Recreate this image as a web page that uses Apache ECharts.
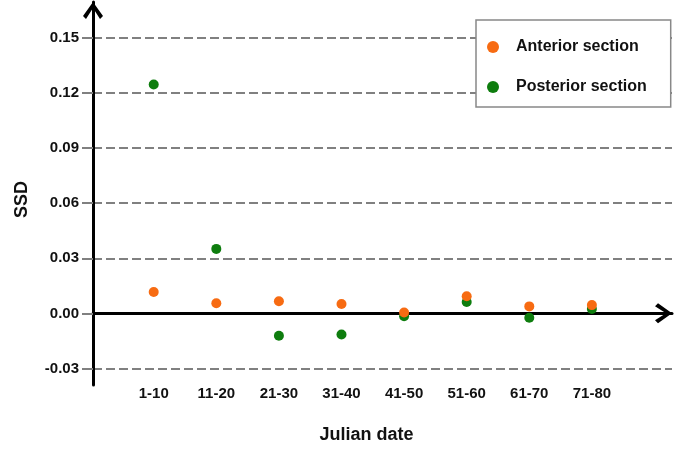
<!DOCTYPE html>
<html>
<head>
<meta charset="utf-8">
<script src="https://cdn.jsdelivr.net/npm/echarts@6/dist/echarts.min.js"></script>
<style>
  html, body { margin: 0; padding: 0; background: #fff; }
  #chart { width: 700px; height: 456px; }
</style>
</head>
<body>
<div id="chart"></div>
<script>
// categories along x (placed at 1..8 on a value axis)
var categories = ['1-10', '11-20', '21-30', '31-40', '41-50', '51-60', '61-70', '71-80'];
var anterior = [0.0116, 0.0055, 0.0066, 0.0051, 0.0005, 0.0093, 0.0038, 0.0045];
var posterior = [0.1246, 0.0351, -0.0122, -0.0115, -0.0016, 0.0062, -0.0024, 0.0024];
// y tick labels
var yTicks = [-0.03, 0, 0.03, 0.06, 0.09, 0.12, 0.15];

var chevron = 'path://M10,0 L20,14 L17,17 L10,6 L3,17 L0,14 Z';
var font = 'Liberation Sans, Arial, sans-serif';

function toPoints(arr) {
  return arr.map(function (v, i) { return [i + 1, v]; });
}

var myChart = echarts.init(document.getElementById('chart'));

var option = {
  backgroundColor: '#fff',
  animation: false,
  grid: { left: 93, right: 28, top: 2, bottom: 71, outerBoundsMode: 'none', containLabel: false },
  legend: {
    orient: 'vertical',
    left: 476,
    top: 20,
    data: ['Anterior section', 'Posterior section'],
    icon: 'circle',
    itemWidth: 12,
    itemHeight: 12,
    itemGap: 24,
    padding: [19, 24, 12, 11],
    borderColor: '#888',
    borderWidth: 1.5,
    backgroundColor: '#fff',
    textStyle: { fontFamily: font, fontWeight: 'bold', fontSize: 16, color: '#111', padding: [0, 0, 0, 12] }
  },
  xAxis: {
    type: 'value',
    min: 0.03,
    max: 9.28,
    name: 'Julian date',
    nameLocation: 'middle',
    nameGap: 41,
    nameTextStyle: { fontFamily: font, fontWeight: 'bold', fontSize: 18, color: '#111', padding: [0, 32, 0, 0] },
    splitLine: { show: false },
    axisTick: { show: false },
    axisLine: {
      onZero: true,
      lineStyle: { color: '#000', width: 3 },
      symbol: ['none', chevron],
      symbolSize: [20, 17],
      symbolOffset: [0, -8.5]
    },
    axisLabel: {
      customValues: [1, 2, 3, 4, 5, 6, 7, 8],
      margin: 1,
      fontFamily: font,
      fontWeight: 'bold',
      fontSize: 15,
      color: '#111',
      formatter: function (v) { return categories[Math.round(v) - 1] || ''; }
    }
  },
  yAxis: {
    type: 'value',
    min: -0.039,
    max: 0.1695,
    name: 'SSD',
    nameLocation: 'middle',
    nameGap: 62,
    nameRotate: 90,
    nameTextStyle: { fontFamily: font, fontWeight: 'bold', fontSize: 18, color: '#111', padding: [0, 12, 0, 0] },
    axisLine: {
      show: true,
      lineStyle: { color: '#000', width: 3 },
      symbol: ['none', chevron],
      symbolSize: [20, 17],
      symbolOffset: [0, -8.5]
    },
    axisTick: {
      show: true,
      customValues: yTicks,
      length: 11,
      lineStyle: { color: '#808080', width: 2 }
    },
    splitLine: {
      show: true,
      lineStyle: { color: '#808080', width: 2, type: [9, 4] }
    },
    axisLabel: {
      customValues: yTicks,
      margin: 14,
      fontFamily: font,
      fontWeight: 'bold',
      fontSize: 15,
      color: '#111',
      formatter: function (v) { return v.toFixed(2); }
    }
  },
  series: [
    {
      name: 'Posterior section',
      type: 'scatter',
      symbolSize: 10,
      itemStyle: { color: '#0E7D0E', opacity: 1 },
      data: toPoints(posterior)
    },
    {
      name: 'Anterior section',
      type: 'scatter',
      symbolSize: 10,
      itemStyle: { color: '#F76B12', opacity: 1 },
      data: toPoints(anterior)
    }
  ]
};

myChart.setOption(option);
</script>
</body>
</html>
